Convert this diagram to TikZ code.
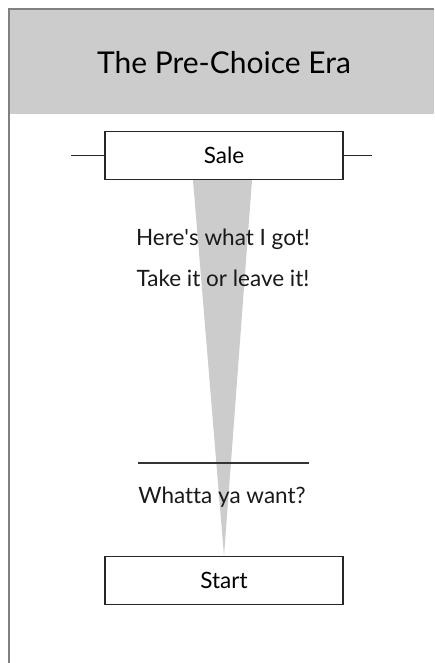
\documentclass[tikz,border=0pt]{standalone}
\usepackage{fontspec}
\setmainfont{Lato}[Ligatures={TeX,NoCommon}]
\usetikzlibrary{positioning,backgrounds}
\begin{document}
\begin{tikzpicture}[x=1pt,y=-1pt,
	box/.style={draw=black!85, line width=1.2pt, minimum width=238pt, minimum height=48pt, inner sep=0pt, font=\fontsize{22.5}{26}\selectfont},
	say/.style={anchor=base, font=\fontsize{22.5}{26}\selectfont, text=black!90}]
	\useasboundingbox (0,0) rectangle (434,663);
	% header band and frame
	\fill[black!20] (9,9) rectangle (434,114);
	\draw[black!50, line width=1.5pt] (434,9) -- (9,9) -- (9,663);
	\node[anchor=base, font=\fontsize{30}{34}\selectfont] (title) at (224,74) {The Pre-Choice Era};
	% boxes
	\node[box] (sale) at (224,155.5) {Sale};
	\node[box] (start) at (224,580.5) {Start};
	% stubs on the sale box
	\coordinate (stubl) at (71,155.5);
	\coordinate (stubr) at (372,155.5);
	\draw[black!85, line width=1.2pt] (stubl) -- (sale.west);
	\draw[black!85, line width=1.2pt] (sale.east) -- (stubr);
	% sayings
	\node[say] (got) at (223,245) {Here\textquotesingle s what I got!};
	\node[say] (take) at (223,286) {Take it or leave it!};
	\node[say] (want) at (222,503) {Whatta ya want?};
	% rule above the question
	\coordinate (rulel) at (138,463);
	\coordinate (ruler) at (309,463);
	\draw[black!80, line width=1.2pt] (rulel) -- (ruler);
	% wedge from sale down to start
	\begin{pgfonlayer}{background}
		\fill[black!20] ([xshift=-31pt]sale.south) -- ([xshift=28pt]sale.south) -- (start.north) -- cycle;
	\end{pgfonlayer}
\end{tikzpicture}
\end{document}
